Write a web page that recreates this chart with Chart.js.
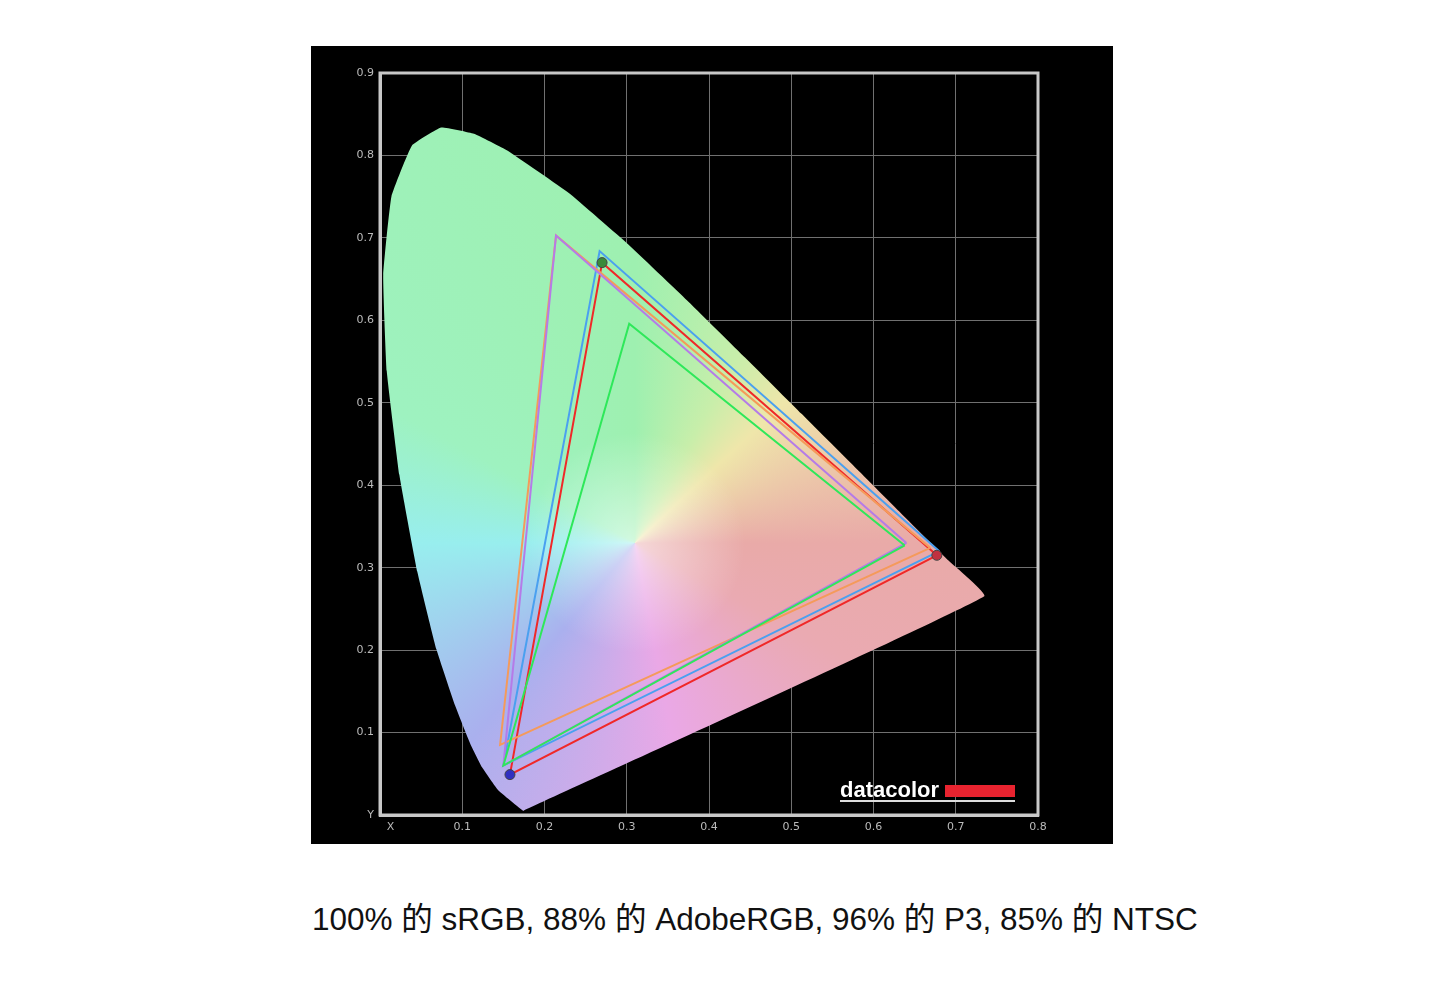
<!DOCTYPE html>
<html><head><meta charset="utf-8">
<script src="https://cdn.jsdelivr.net/npm/chart.js@4"></script>
<style>
body{margin:0;background:#fff;width:1442px;height:981px;position:relative;overflow:hidden}
#box{position:absolute;left:311px;top:46px;width:802px;height:798px;background:#000}
#cap{position:absolute;left:312px;top:893px;white-space:nowrap;font:31.5px "Liberation Sans","Noto Sans CJK SC",sans-serif;color:#111}
</style></head><body>
<div id="box"><canvas id="c" width="802" height="798"></canvas></div>
<div id="cap">100% 的 sRGB, 88% 的 AdobeRGB, 96% 的 P3, 85% 的 NTSC</div>
<script>
const locusX=[0.1741,0.1440,0.1241,0.1096,0.0913,0.0687,0.0454,0.0235,0.0082,0.0039,0.0139,0.0389,0.0743,0.1142,0.1547,0.2296,0.3016,0.3731,0.4441,0.5125,0.5752,0.6270,0.6915,0.7347,0.1741];
const locusY=[0.0050,0.0297,0.0578,0.0868,0.1327,0.2007,0.2950,0.4127,0.5384,0.6548,0.7502,0.8120,0.8338,0.8262,0.8059,0.7543,0.6923,0.6245,0.5547,0.4866,0.4242,0.3725,0.3083,0.2653,0.0050];
const srgbX=[0.638,0.303,0.150,0.638], srgbY=[0.327,0.596,0.060,0.327];
const adobeX=[0.640,0.214,0.150,0.640], adobeY=[0.330,0.703,0.060,0.330];
const ntscX=[0.669,0.214,0.146,0.669], ntscY=[0.324,0.703,0.085,0.324];
const p3X=[0.680,0.267,0.150,0.680], p3Y=[0.320,0.684,0.060,0.320];
const measX=[0.677,0.270,0.158,0.677], measY=[0.315,0.670,0.049,0.315];
const xTicks=[0,0.1,0.2,0.3,0.4,0.5,0.6,0.7,0.8], yTicks=[0,0.1,0.2,0.3,0.4,0.5,0.6,0.7,0.8,0.9];
const pts=(xs,ys)=>xs.map((x,i)=>({x,y:ys[i]}));
function locusFill(ctx){
  const ch=ctx.chart; if(!ch.chartArea) return '#9ef0b0';
  const c=ch.ctx, sx=ch.scales.x, sy=ch.scales.y;
  const cx=sx.getPixelForValue(0.31), cy=sy.getPixelForValue(0.33);
  const g=c.createConicGradient(0,cx,cy);
  g.addColorStop(0,'#e9aaa8');g.addColorStop(0.08,'#eaaab2');g.addColorStop(0.22,'#eaa8e6');
  g.addColorStop(0.36,'#aab0ee');g.addColorStop(0.5,'#98eeee');g.addColorStop(0.58,'#9ef2c0');
  g.addColorStop(0.75,'#9ef0b0');g.addColorStop(0.83,'#c8eeaa');g.addColorStop(0.88,'#efe6aa');g.addColorStop(1,'#e9aaa8');
  return g;
}
function whiteFill(ctx){
  const ch=ctx.chart; if(!ch.chartArea) return 'rgba(0,0,0,0)';
  const c=ch.ctx, sx=ch.scales.x, sy=ch.scales.y;
  const cx=sx.getPixelForValue(0.31), cy=sy.getPixelForValue(0.33);
  const g=c.createRadialGradient(cx,cy,0,cx,cy,110);
  g.addColorStop(0,'rgba(255,255,255,0.55)');g.addColorStop(1,'rgba(255,255,255,0)');
  return g;
}
const tri=(label,xs,ys,col)=>({label,data:pts(xs,ys),showLine:true,borderColor:col,borderWidth:2,pointRadius:0,fill:false,order:1});
const frame={id:'frame',afterDraw(ch){const c=ch.ctx,a=ch.chartArea;c.save();
  c.strokeStyle='#c8c8c8';c.lineWidth=3;c.strokeRect(a.left,a.top,a.right-a.left,a.bottom-a.top);
  c.fillStyle='#fff';c.font='bold 22px "Liberation Sans", sans-serif';c.textBaseline='alphabetic';c.fillText('datacolor',529,751);
  c.fillStyle='#e8232f';c.fillRect(634,739,70,12);
  c.fillStyle='#ddd';c.fillRect(529,754,175,2);c.restore();}};
new Chart(document.getElementById('c'),{type:'scatter',
 data:{datasets:[
  {label:'locus',data:pts(locusX,locusY),showLine:true,borderWidth:0,pointRadius:0,fill:'shape',backgroundColor:locusFill,order:10,tension:0.1},
  {label:'white',data:pts(locusX,locusY),showLine:true,borderWidth:0,pointRadius:0,fill:'shape',backgroundColor:whiteFill,order:9,tension:0.1},
  tri('sRGB',srgbX,srgbY,'#2ee85a'),
  tri('AdobeRGB',adobeX,adobeY,'#b57be8'),
  tri('NTSC',ntscX,ntscY,'#f59a5a'),
  tri('P3',p3X,p3Y,'#4aa0f0'),
  tri('Measured',measX,measY,'#f02828'),
  {label:'dots',data:pts(measX.slice(0,3),measY.slice(0,3)),pointRadius:5,pointBackgroundColor:['#c03040','#3a8a3a','#3030c0'],pointBorderColor:'#444',pointBorderWidth:1,order:0}
 ]},
 options:{responsive:false,animation:false,
  layout:{padding:{top:27,right:75,left:0,bottom:0}},
  plugins:{legend:{display:false},tooltip:{enabled:false}},
  scales:{
   x:{type:'linear',min:0,max:0.8,afterFit(a){a.height=29;},afterBuildTicks(a){a.ticks=xTicks.map(v=>({value:v}));},
      border:{color:'#c8c8c8',width:3},grid:{color:'#707070',lineWidth:1,drawTicks:false},
      ticks:{color:'#bbb',font:{size:11,family:'DejaVu Sans'},padding:6,callback:v=>v===0?'      X':v.toFixed(1),maxRotation:0}},
   y:{type:'linear',min:0,max:0.9,afterFit(a){a.width=69;},afterBuildTicks(a){a.ticks=yTicks.map(v=>({value:v}));},
      border:{color:'#c8c8c8',width:3},grid:{color:'#707070',lineWidth:1,drawTicks:false},
      ticks:{color:'#bbb',font:{size:11,family:'DejaVu Sans'},padding:6,callback:v=>v===0?'Y':v.toFixed(1)}}
  }},
 plugins:[frame]});
</script></body></html>
